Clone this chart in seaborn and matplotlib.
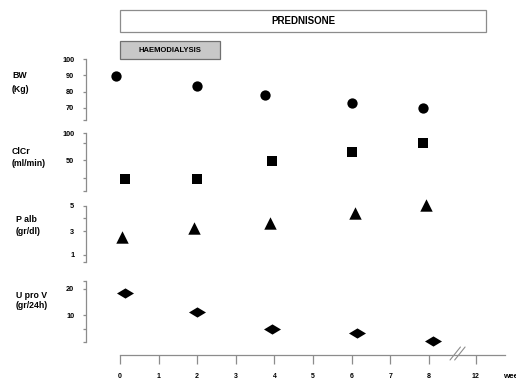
import numpy as np
import pandas as pd
import matplotlib
matplotlib.use("Agg")
import matplotlib.pyplot as plt
from matplotlib.patches import Rectangle
from matplotlib.transforms import blended_transform_factory
import seaborn as sns

# data (weeks, values)
bw_weeks = [-0.1, 2.0, 3.75, 6.0, 7.85]
bw_kg = [89.5, 83.5, 78.0, 73.0, 70.0]

clcr_weeks = [0.13, 2.0, 3.95, 6.0, 7.85]
clcr_mlmin = [15, 15, 48, 65, 82]

palb_weeks = [0.05, 1.92, 3.88, 6.08, 7.93]
palb_grdl = [2.5, 3.25, 3.65, 4.5, 5.2]

uprov_weeks = [0.13, 2.0, 3.94, 6.15, 8.1]
uprov_gr24h = [18.5, 11.5, 5.0, 3.5, 0.2]

week_ticks = [0, 1, 2, 3, 4, 5, 6, 7, 8, 9.22]
week_labels = ["0", "1", "2", "3", "4", "5", "6", "7", "8", "12"]

sns.set_style("white")
plt.rcParams['font.family'] = ['Liberation Sans', 'DejaVu Sans']
plt.rcParams['text.color'] = 'black'
plt.rcParams['xtick.color'] = 'black'
plt.rcParams['ytick.color'] = 'black'

W, H = 516, 381
fig = plt.figure(figsize=(W / 100, H / 100), dpi=100)

def fx(px):
    return px / W

def fy(py):
    return 1 - py / H

left, right = 86, 505
xlim = ((left - 120) / 38.6, (right - 120) / 38.6)
grey = "#8c8c8c"

panels = [
    # top px, bottom px, weeks, values, marker, size, ylim, ticks, labels, name
    (59, 120, bw_weeks, bw_kg, "o", 55, (62.6, 100), [100, 90, 80, 70, 62.6],
     ["100", "90", "80", "70", ""], ("BW", "(Kg)"), (12, 76, 89)),
    (133, 191, clcr_weeks, clcr_mlmin, "s", 60, (-7.4, 100), [100, 81, 50, 17, -7.4],
     ["100", "", "50", "", ""], ("ClCr", "(ml/min)"), (12, 152, 163)),
    (206, 262, palb_weeks, palb_grdl, "^", 80, (0.4, 5.1), [5.1, 4.1, 3.0, 1.0, 0.4],
     ["5", "", "3", "1", ""], ("P alb", "(gr/dl)"), (16, 219, 231)),
    (281, 342, uprov_weeks, uprov_gr24h, [(-1, 0), (0, 0.6), (1, 0), (0, -0.6)], 150,
     (0, 23), [23, 20, 10, 5, 0], ["", "20", "10", "", ""], ("U pro V", "(gr/24h)"), (16, 295, 306)),
]

for top, bot, wk, vals, mk, sz, yl, yt, ytl, names, lpos in panels:
    ax = fig.add_axes([fx(left), fy(bot), fx(right - left), (bot - top) / H])
    ax.set_facecolor("none")
    df = pd.DataFrame({"week": wk, "value": vals})
    sns.scatterplot(data=df, x="week", y="value", marker=mk, s=sz, color="black",
                    edgecolor="black", linewidth=0, ax=ax, clip_on=False, zorder=3)
    ax.set_xlim(*xlim)
    ax.set_ylim(*yl)
    ax.set_yticks(yt)
    ax.set_yticklabels(ytl)
    ax.set_xticks([])
    ax.set_xlabel("")
    ax.set_ylabel("")
    for s in ["top", "right", "bottom"]:
        ax.spines[s].set_visible(False)
    ax.spines["left"].set_color(grey)
    ax.spines["left"].set_linewidth(0.9)
    ax.tick_params(axis="y", left=True, direction="out", length=2.5, width=0.9,
                   color=grey, labelcolor="black", pad=6, labelsize=5.3)
    for t in ax.get_yticklabels():
        t.set_fontweight("bold")
    fig.text(fx(lpos[0]), fy(lpos[1]), names[0], fontsize=6.3, fontweight="bold", va="center")
    fig.text(fx(lpos[0]), fy(lpos[2]), names[1], fontsize=6.3, fontweight="bold", va="center")

# bottom week axis
axb = fig.add_axes([fx(left), fy(355), fx(right - left), 0.01])
axb.set_facecolor("none")
axb.set_xlim(*xlim)
axb.set_ylim(0, 1)
axb.set_yticks([])
for s in ["top", "right", "left"]:
    axb.spines[s].set_visible(False)
axb.spines["bottom"].set_color(grey)
axb.spines["bottom"].set_linewidth(0.9)
axb.spines["bottom"].set_bounds(0, xlim[1])
axb.set_xticks(week_ticks)
axb.set_xticklabels(week_labels)
axb.tick_params(axis="x", bottom=True, direction="out", length=6.5, width=0.9,
                color=grey, labelcolor="black", pad=6.3, labelsize=5.0)
for t in axb.get_xticklabels():
    t.set_fontweight("bold")
tr = blended_transform_factory(axb.transData, fig.transFigure)
for dx in [0, 0.12]:
    axb.plot([8.55 + dx, 8.82 + dx], [fy(360), fy(347)], color=grey, lw=0.8,
             transform=tr, clip_on=False)
fig.text(fx(503), fy(377), "weeks", fontsize=5.8, fontweight="bold", va="center")

# treatment boxes
fig.patches.append(Rectangle((fx(120), fy(32)), fx(486 - 120), (32 - 10) / H,
                             transform=fig.transFigure, facecolor="white",
                             edgecolor=grey, linewidth=0.9))
fig.text(fx(303), fy(21), "PREDNISONE", fontsize=7, fontweight="bold",
         ha="center", va="center")
fig.patches.append(Rectangle((fx(120), fy(59)), fx(220 - 120), (59 - 41) / H,
                             transform=fig.transFigure, facecolor="#c8c8c8",
                             edgecolor="#707070", linewidth=0.9))
fig.text(fx(170), fy(50), "HAEMODIALYSIS", fontsize=5.5, fontweight="bold",
         ha="center", va="center")

fig.savefig("out.png", dpi=100)
